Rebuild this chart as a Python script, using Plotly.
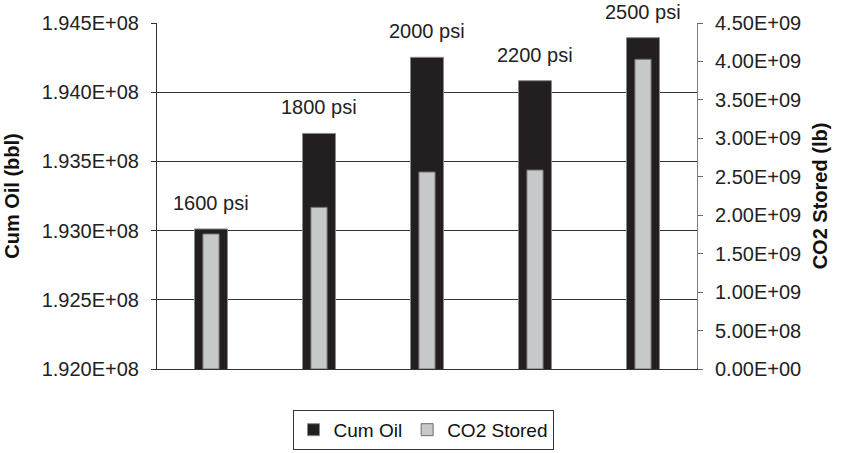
import numpy as np
import plotly.graph_objects as go

# Injection pressure cases
pressures = ["1600 psi", "1800 psi", "2000 psi", "2200 psi", "2500 psi"]
# Cumulative oil production (bbl), left axis
cum_oil = [1.93012e8, 1.93702e8, 1.94252e8, 1.94083e8, 1.94394e8]
# CO2 stored (lb), right axis
co2_stored = [1.756e9, 2.103e9, 2.562e9, 2.588e9, 4.028e9]

# Axis ticks
oil_ticks = [1.920e8, 1.925e8, 1.930e8, 1.935e8, 1.940e8, 1.945e8]
co2_ticks = [0.0, 5.0e8, 1.0e9, 1.5e9, 2.0e9, 2.5e9, 3.0e9, 3.5e9, 4.0e9, 4.5e9]

FONT = "Liberation Sans, Arial, sans-serif"
BLACK_BAR = "#231f20"
GRAY_BAR = "#c7c8ca"

fig = go.Figure()
fig.add_trace(go.Bar(
    x=pressures, y=cum_oil, name="Cum Oil", yaxis="y",
    width=0.305, marker=dict(color=BLACK_BAR, line=dict(color="#8a8a8a", width=1)),
))
fig.add_trace(go.Bar(
    x=pressures, y=co2_stored, name="CO2 Stored", yaxis="y2",
    width=0.15, marker=dict(color=GRAY_BAR, line=dict(color="#6e6e6e", width=1)),
))

# Pressure labels above each oil bar
for p, v in zip(pressures, cum_oil):
    fig.add_annotation(x=p, y=v, xref="x", yref="y", text=p, showarrow=False,
                       yanchor="bottom", yshift=13,
                       font=dict(family=FONT, size=20, color="#222222"))

fig.update_layout(
    width=842, height=453,
    margin=dict(l=157, r=145, t=23, b=84, autoexpand=False),
    paper_bgcolor="white", plot_bgcolor="white",
    barmode="overlay", showlegend=True,
    font=dict(family=FONT, size=20, color="#222222"),
    xaxis=dict(showticklabels=False, ticks="", showgrid=False,
               showline=True, linecolor="#333333", linewidth=1, fixedrange=True),
    yaxis=dict(range=[oil_ticks[0], oil_ticks[-1]], tickvals=oil_ticks,
               ticktext=[f"{v:.3E}" for v in oil_ticks],
               ticks="outside", ticklen=5, tickcolor="#333333",
               ticklabelstandoff=8,
               showgrid=True, gridcolor="#333333", gridwidth=1,
               showline=True, linecolor="#333333", linewidth=1,
               zeroline=False,
               title=dict(text="<b>Cum Oil (bbl)</b>", standoff=16,
                          font=dict(family=FONT, size=20, color="#111111"))),
    yaxis2=dict(range=[co2_ticks[0], co2_ticks[-1]], tickvals=co2_ticks,
                ticktext=[f"{v:.2E}" for v in co2_ticks],
                overlaying="y", side="right", anchor="x",
                ticks="outside", ticklen=5, tickcolor="#666666",
                ticklabelstandoff=8,
                showgrid=False, zeroline=False,
                showline=True, linecolor="#808080", linewidth=1,
                title=dict(text="<b>CO2 Stored (lb)</b>", standoff=12,
                           font=dict(family=FONT, size=20, color="#111111"))),
    # inner half of the crossing tick marks on the right axis
    yaxis3=dict(range=[co2_ticks[0], co2_ticks[-1]], tickvals=co2_ticks,
                overlaying="y", side="right", anchor="x",
                ticks="inside", ticklen=5, tickcolor="#666666",
                showticklabels=False, showgrid=False, zeroline=False,
                showline=False),
    legend=dict(orientation="h", x=0.4926, xanchor="center", y=-0.118, yanchor="top",
                bordercolor="#333333", borderwidth=1, bgcolor="white",
                font=dict(family=FONT, size=19, color="#111111"),
                traceorder="normal"),
)

fig.write_html("out.html")
